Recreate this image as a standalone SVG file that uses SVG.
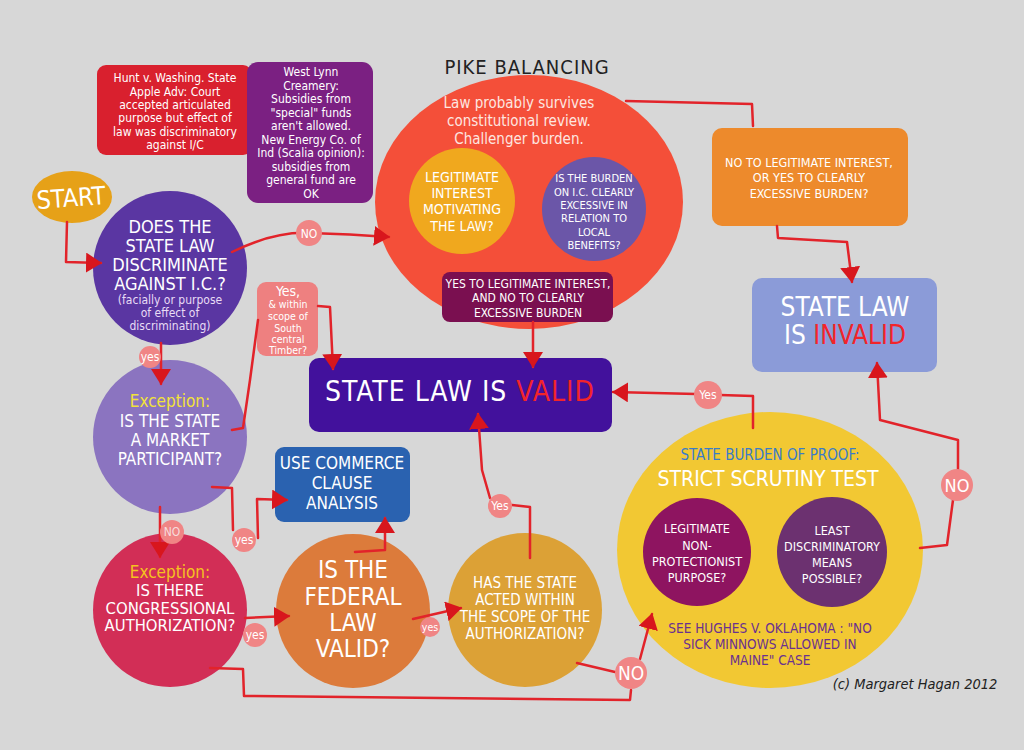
<svg xmlns="http://www.w3.org/2000/svg" width="1024" height="750" viewBox="0 0 1024 750">
<defs>
<style>
text{font-family:"Liberation Sans Narrow","DejaVu Sans Condensed","Roboto Condensed",sans-serif;text-anchor:middle;dominant-baseline:central;fill:#fff}
.ln{fill:none;stroke:#e2232a;stroke-width:2.5;stroke-linejoin:round;stroke-linecap:round}
.lbl{fill:#f08585}
.lt{font-size:12px}
.red{fill:#f2242a}
.yel{fill:#f2e23a}
</style>
<marker id="ah" viewBox="0 0 16 20" refX="15" refY="10" markerWidth="16" markerHeight="20" markerUnits="userSpaceOnUse" orient="auto">
<path d="M0,0 L16,10 L0,20 z" fill="#d8161d"/>
</marker>
</defs>
<rect width="1024" height="750" fill="#d7d7d7"/>

<g id="hunt">
<rect x="97" y="65" width="155" height="90" rx="9" fill="#d9202e"/>
<text font-size="12"><tspan x="175" y="78">Hunt v. Washing. State</tspan><tspan x="175" y="92">Apple Adv: Court</tspan><tspan x="175" y="105">accepted articulated</tspan><tspan x="175" y="118">purpose but effect of</tspan><tspan x="175" y="132">law was discriminatory</tspan><tspan x="175" y="145">against I/C</tspan></text>
</g>

<g id="westlynn">
<rect x="247" y="62" width="126" height="141" rx="11" fill="#7b2082"/>
<text font-size="12"><tspan x="311" y="72">West Lynn</tspan><tspan x="311" y="86">Creamery:</tspan><tspan x="311" y="99">Subsidies from</tspan><tspan x="311" y="113">"special" funds</tspan><tspan x="311" y="126">aren't allowed.</tspan><tspan x="311" y="140">New Energy Co. of</tspan><tspan x="311" y="153">Ind (Scalia opinion):</tspan><tspan x="311" y="167">subsidies from</tspan><tspan x="311" y="180">general fund are</tspan><tspan x="311" y="194">OK</tspan></text>
</g>

<g id="pike">
<text x="527" y="67" font-size="20" style="fill:#222;letter-spacing:1px">PIKE BALANCING</text>
<ellipse cx="529" cy="202" rx="154" ry="127" fill="#f44f39"/>
<text font-size="15" style="fill:#fde6e0"><tspan x="519" y="103">Law probably survives</tspan><tspan x="519" y="121">constitutional review.</tspan><tspan x="519" y="139">Challenger burden.</tspan></text>
</g>

<g id="legit-interest">
<circle cx="462" cy="201" r="53" fill="#f0a81e"/>
<text font-size="14"><tspan x="462" y="177">LEGITIMATE</tspan><tspan x="462" y="193">INTEREST</tspan><tspan x="462" y="209">MOTIVATING</tspan><tspan x="462" y="226">THE LAW?</tspan></text>
</g>

<g id="burden">
<circle cx="594" cy="209" r="52" fill="#6b56a8"/>
<text font-size="11"><tspan x="594" y="178">IS THE BURDEN</tspan><tspan x="594" y="192">ON I.C. CLEARLY</tspan><tspan x="594" y="205">EXCESSIVE IN</tspan><tspan x="594" y="218">RELATION TO</tspan><tspan x="594" y="232">LOCAL</tspan><tspan x="594" y="245">BENEFITS?</tspan></text>
</g>

<g id="yes-legit">
<rect x="442" y="272" width="171" height="50" rx="8" fill="#7a0f50"/>
<text font-size="12"><tspan x="528" y="284">YES TO LEGITIMATE INTEREST,</tspan><tspan x="528" y="298">AND NO TO CLEARLY</tspan><tspan x="528" y="313">EXCESSIVE BURDEN</tspan></text>
</g>

<g id="no-legit">
<rect x="712" y="128" width="196" height="98" rx="10" fill="#ed8a2c"/>
<text font-size="12.5"><tspan x="809" y="162">NO TO LEGITIMATE INTEREST,</tspan><tspan x="809" y="177">OR YES TO CLEARLY</tspan><tspan x="809" y="193">EXCESSIVE BURDEN?</tspan></text>
</g>

<g id="invalid">
<rect x="752" y="278" width="185" height="94" rx="10" fill="#8b9bd8"/>
<text x="845" y="307" font-size="26">STATE LAW</text>
<text x="845" y="335" font-size="26">IS <tspan class="red">INVALID</tspan></text>
</g>

<g id="start">
<ellipse cx="72" cy="197" rx="40" ry="26" fill="#e6a118"/>
<text x="71" y="198" font-size="25" transform="rotate(-4 71 198)">START</text>
</g>

<g id="discriminate">
<circle cx="170" cy="268" r="77" fill="#5a36a2"/>
<text font-size="18"><tspan x="170" y="226">DOES THE</tspan><tspan x="170" y="245">STATE LAW</tspan><tspan x="170" y="264">DISCRIMINATE</tspan><tspan x="170" y="283">AGAINST I.C.?</tspan></text>
<text font-size="12" style="fill:#e8dcf5"><tspan x="170" y="300">(facially or purpose</tspan><tspan x="170" y="313">of effect of</tspan><tspan x="170" y="326">discriminating)</tspan></text>
</g>

<g id="timber">
<rect x="257" y="282" width="61" height="74" rx="9" fill="#ee8080"/>
<text font-size="14" x="288" y="291">Yes,</text>
<text font-size="10.5"><tspan x="288" y="304">&amp; within</tspan><tspan x="288" y="316">scope of</tspan><tspan x="288" y="328">South</tspan><tspan x="288" y="339">central</tspan><tspan x="288" y="350">Timber?</tspan></text>
</g>

<g id="valid">
<rect x="309" y="358" width="303" height="74" rx="10" fill="#42119c"/>
<text x="460" y="391" font-size="28" style="letter-spacing:1px">STATE LAW IS <tspan class="red">VALID</tspan></text>
</g>

<g id="market">
<circle cx="170" cy="437" r="77" fill="#8b74c0"/>
<text x="170" y="401" font-size="17" class="yel">Exception:</text>
<text font-size="17"><tspan x="170" y="421">IS THE STATE</tspan><tspan x="170" y="440">A MARKET</tspan><tspan x="170" y="459">PARTICIPANT?</tspan></text>
</g>

<g id="commerce">
<rect x="275" y="447" width="135" height="75" rx="9" fill="#2a62b0"/>
<text font-size="17"><tspan x="342" y="463">USE COMMERCE</tspan><tspan x="342" y="483">CLAUSE</tspan><tspan x="342" y="503">ANALYSIS</tspan></text>
</g>

<g id="congress">
<circle cx="170" cy="610" r="77" fill="#d22e56"/>
<text x="170" y="572" font-size="17" style="fill:#f5c21f">Exception:</text>
<text font-size="16.5"><tspan x="170" y="590">IS THERE</tspan><tspan x="170" y="608">CONGRESSIONAL</tspan><tspan x="170" y="625">AUTHORIZATION?</tspan></text>
</g>

<g id="federal">
<circle cx="353" cy="611" r="77" fill="#dc7b3b"/>
<text font-size="24"><tspan x="353" y="570">IS THE</tspan><tspan x="353" y="597">FEDERAL</tspan><tspan x="353" y="623">LAW</tspan><tspan x="353" y="649">VALID?</tspan></text>
</g>

<g id="scope">
<circle cx="525" cy="610" r="77" fill="#dca136"/>
<text font-size="15"><tspan x="525" y="583">HAS THE STATE</tspan><tspan x="525" y="600">ACTED WITHIN</tspan><tspan x="525" y="617">THE SCOPE OF THE</tspan><tspan x="525" y="634">AUTHORIZATION?</tspan></text>
</g>

<g id="strict">
<ellipse cx="770" cy="550" rx="153" ry="138" fill="#f2c833"/>
<text x="770" y="455" font-size="15" style="fill:#3a7cc8">STATE BURDEN OF PROOF:</text>
<text x="768" y="479" font-size="21">STRICT SCRUTINY TEST</text>
<text font-size="13.5" style="fill:#6a3090"><tspan x="770" y="628">SEE HUGHES V. OKLAHOMA : "NO</tspan><tspan x="770" y="644">SICK MINNOWS ALLOWED IN</tspan><tspan x="770" y="660">MAINE" CASE</tspan></text>
</g>

<g id="purpose">
<circle cx="697" cy="552" r="54" fill="#8e1460"/>
<text font-size="12.5"><tspan x="697" y="528">LEGITIMATE</tspan><tspan x="697" y="545">NON-</tspan><tspan x="697" y="561">PROTECTIONIST</tspan><tspan x="697" y="577">PURPOSE?</tspan></text>
</g>

<g id="means">
<circle cx="832" cy="552" r="55" fill="#6c3170"/>
<text font-size="12.5"><tspan x="832" y="530">LEAST</tspan><tspan x="832" y="546">DISCRIMINATORY</tspan><tspan x="832" y="562">MEANS</tspan><tspan x="832" y="578">POSSIBLE?</tspan></text>
</g>

<g id="connectors">
<path class="ln" d="M67,222 L66,262 L101,263" marker-end="url(#ah)"/>
<path class="ln" d="M232,252 Q275,231 310,233 Q350,234 389,237" marker-end="url(#ah)"/>
<path class="ln" d="M161,343 L161,384" marker-end="url(#ah)"/>
<path class="ln" d="M232,430 L243,428 L250,380 L258,320"/>
<path class="ln" d="M318,306 L330,307 L333,369" marker-end="url(#ah)"/>
<path class="ln" d="M533,322 L533,367" marker-end="url(#ah)"/>
<path class="ln" d="M212,487 L232,488 L233,530"/>
<path class="ln" d="M258,538 L257,499 L287,500" marker-end="url(#ah)"/>
<path class="ln" d="M160,507 L160,557" marker-end="url(#ah)"/>
<path class="ln" d="M245,618 L289,616" marker-end="url(#ah)"/>
<path class="ln" d="M355,552 L385,550 L385,518" marker-end="url(#ah)"/>
<path class="ln" d="M413,619 L461,608" marker-end="url(#ah)"/>
<path class="ln" d="M530,558 L530,507 L512,505"/>
<path class="ln" d="M490,498 L482,470 L478,414" marker-end="url(#ah)"/>
<path class="ln" d="M577,663 L615,672"/>
<path class="ln" d="M640,659 L652,614" marker-end="url(#ah)"/>
<path class="ln" d="M210,668 L243,669 L244,696 L630,700 L631,690"/>
<path class="ln" d="M753,428 L753,396 L720,395"/>
<path class="ln" d="M696,394 L613,392" marker-end="url(#ah)"/>
<path class="ln" d="M920,548 L947,545 L953,500"/>
<path class="ln" d="M958,470 L958,440 L880,420 L877,363" marker-end="url(#ah)"/>
<path class="ln" d="M626,101 L752,104 L753,126"/>
<path class="ln" d="M777,226 L778,238 L847,242 L852,282" marker-end="url(#ah)"/>
<circle class="lbl" cx="309" cy="233" r="13"/><text x="309" y="234" class="lt">NO</text>
<circle class="lbl" cx="150" cy="357" r="11"/><text x="150" y="357" class="lt">yes</text>
<circle class="lbl" cx="172" cy="532" r="12"/><text x="172" y="532" class="lt" style="fill:#f6dcdc">NO</text>
<circle class="lbl" cx="244" cy="540" r="12"/><text x="244" y="540" class="lt">yes</text>
<circle class="lbl" cx="255" cy="635" r="12"/><text x="255" y="635" class="lt">yes</text>
<circle class="lbl" cx="430" cy="627" r="10"/><text x="430" y="627" font-size="10.5">yes</text>
<circle class="lbl" cx="500" cy="506" r="12"/><text x="500" y="506" class="lt">Yes</text>
<circle class="lbl" cx="631" cy="673" r="16"/><text x="631" y="673" font-size="19">NO</text>
<circle class="lbl" cx="708" cy="395" r="14"/><text x="708" y="395" class="lt">Yes</text>
<circle class="lbl" cx="957" cy="485" r="16"/><text x="957" y="485" font-size="18">NO</text>
</g>

<text x="915" y="684" font-size="14.5" style="fill:#222;font-style:italic">(c) Margaret Hagan 2012</text>
</svg>
